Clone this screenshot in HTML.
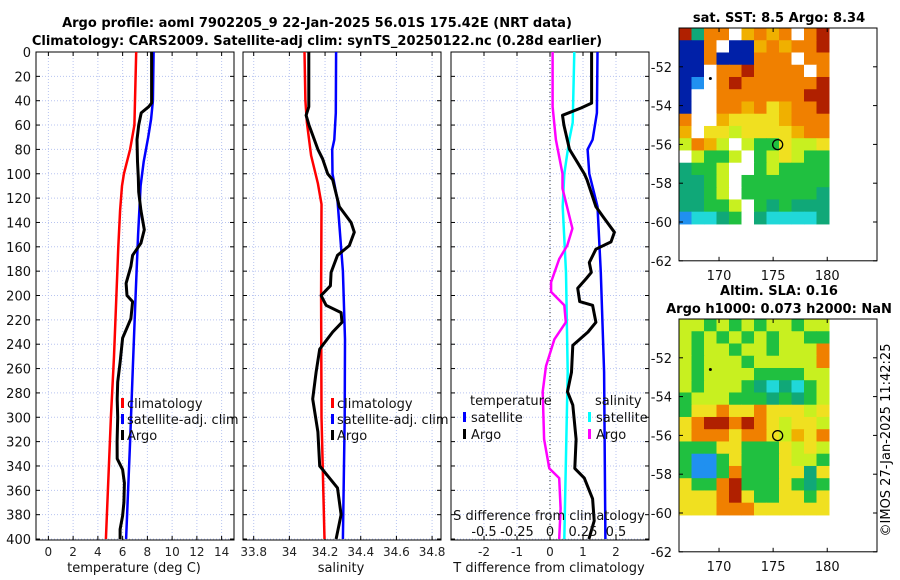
<!DOCTYPE html>
<html><head><meta charset="utf-8">
<style>
html,body{margin:0;padding:0;background:#fff;}
svg{display:block;font-family:"DejaVu Sans","Liberation Sans",sans-serif;}
</style></head>
<body>
<svg id="fig" width="900" height="580" viewBox="0 0 900 580" xmlns="http://www.w3.org/2000/svg">
<text x="317" y="27" font-size="13" font-weight="bold" text-anchor="middle">Argo profile: aoml 7902205_9 22-Jan-2025 56.01S 175.42E (NRT data)</text>
<text x="317" y="45" font-size="13" font-weight="bold" text-anchor="middle">Climatology: CARS2009. Satellite-adj clim: synTS_20250122.nc (0.28d earlier)</text>
<text x="779" y="22" font-size="13" font-weight="bold" text-anchor="middle">sat. SST: 8.5 Argo: 8.34</text>
<text x="779" y="295" font-size="13" font-weight="bold" text-anchor="middle">Altim. SLA: 0.16</text>
<text x="779" y="313" font-size="13" font-weight="bold" text-anchor="middle">Argo h1000: 0.073 h2000: NaN</text>
<text transform="translate(890,440) rotate(-90)" font-size="13" text-anchor="middle">©IMOS 27-Jan-2025 11:42:25</text>
<g id="plots"></g>
</svg>
<script>
// ---- Panel 1: temperature ----
const tClimDepth = [0,40,60,80,100,110,130,160,200,250,300,350,400];
const tClimVal   = [7.1,7.0,6.95,6.6,6.1,5.95,5.8,5.65,5.5,5.3,5.05,4.85,4.65];
const tSatDepth  = [0,40,55,70,90,110,150,200,260,320,400];
const tSatVal    = [8.5,8.45,8.3,8.07,7.7,7.45,7.25,7.05,6.82,6.6,6.28];
const tArgoDepth = [0,20,42,45,50,60,72,90,103,115,130,146,157,167,176,190,200,205,219,235,255,271,285,300,320,334,343,354,370,381,392,400];
const tArgoVal   = [8.34,8.34,8.34,8.1,7.5,7.3,7.16,7.2,7.27,7.3,7.48,7.75,7.48,6.81,6.67,6.28,6.35,6.81,6.67,6.0,5.8,5.6,5.56,5.6,5.55,5.56,6.0,6.14,6.1,6.0,5.8,5.8];
const tTicks = [0,2,4,6,8,10,12,14];
// ---- Panel 2: salinity ----
const sClimDepth = [0,40,58,85,108,125,200,300,400];
const sClimVal   = [34.085,34.09,34.098,34.122,34.16,34.18,34.178,34.18,34.197];
const sSatDepth  = [0,50,72,80,100,122,180,236,300,400];
const sSatVal    = [34.262,34.26,34.252,34.24,34.242,34.27,34.3,34.312,34.31,34.3];
const sArgoDepth = [0,45,52,60,80,88,100,105,127,140,148,159,167,181,192,200,208,214,222,230,244,263,285,312,340,350,358,380,400];
const sArgoVal   = [34.109,34.109,34.094,34.11,34.16,34.187,34.215,34.243,34.28,34.346,34.364,34.336,34.27,34.234,34.23,34.178,34.206,34.29,34.295,34.243,34.17,34.15,34.131,34.16,34.17,34.225,34.27,34.29,34.262];
const sTicks = [33.8,34,34.2,34.4,34.6,34.8];
const sTickLabels = ["33.8","34","34.2","34.4","34.6","34.8"];
// ---- Panel 3: differences from climatology ----
const dTArgoDepth = [0,42,46,52,60,80,91,100,105,127,135,148,156,162,173,181,186,194,205,208,222,230,241,263,279,290,318,342,350,367,385,400];
const dTArgoVal   = [1.26,1.26,0.94,0.38,0.42,0.59,0.84,1.04,1.12,1.39,1.6,1.95,1.85,1.39,1.19,1.25,1.1,0.84,0.9,1.29,1.39,1.15,0.69,0.65,0.53,0.69,0.79,0.75,1.04,1.29,1.34,1.18];
const dTSatDepth  = [0,50,72,80,100,127,181,263,400];
const dTSatVal    = [1.44,1.42,1.29,1.14,1.19,1.44,1.54,1.64,1.68];
const dSArgoDepth = [0,45,72,100,112,145,159,170,189,197,208,222,236,258,279,318,342,350,375,400];
const dSArgoVal   = [0.02,0.02,0.045,0.095,0.095,0.17,0.13,0.07,0.008,0.008,0.108,0.12,0.033,-0.03,-0.055,-0.045,-0.005,0.07,0.08,0.07];
const dSSatDepth  = [0,58,72,100,127,181,263,400];
const dSSatVal    = [0.184,0.172,0.146,0.108,0.096,0.121,0.134,0.108];
const dTTicks = [-2,-1,0,1,2];
const dSTicks = [-0.5,-0.25,0,0.25,0.5];
const dSTickLabels = ["-0.5","-0.25","0","0.25","0.5"];
const depthTicks = [0,20,40,60,80,100,120,140,160,180,200,220,240,260,280,300,320,340,360,380,400];
// ---- Maps (colour code grids) ----
const sstRows = ["RgOOWoOoOWOR","BBOWBBoOoOOR","BBOBBBOOOWOO","BBWOOROOOOWO","BbWOROOOOOOR","BWWOOOOOOORR","BWWOOoOYoOOR","OWWoYYYYoOOO","oWYYyYYYYoOO","yOoyWyGGYyyY","WyGGyWGyYyGG","gGGyWWGyGGGG","ggGyWGGGGGGG","ggGyWGGGGGGg","ggGGyWGgGggg","bCCgGWgCCCCg"];
const slaRows = ["yyGyGyGyyGyy","yGyGyGyGyyGG","yGyyGyyGyyyO","yGyyyGyyyyyO","yGyyyyGGGGyy","yGyyyGgCgCGy","GyyyGGGgGgGy","GYYOYYOYYYyY","YORROROYyYYy","YOOOYOOYyoYO","GGGYYGGGYyYy","GbbGYGGGYyyG","GbbGOGGGYYgY","YGGORGGGYGgG","YYYORYGGYYGY","YYYOOOYYYYYY"];
const lonTicks = [170,175,180];
const latTicks = [-52,-54,-56,-58,-60,-62];
const argoLon = 175.42, argoLat = -56.01;

const NS="http://www.w3.org/2000/svg";
const root=document.getElementById('plots');
function mk(tag,attrs,parent){const e=document.createElementNS(NS,tag);for(const k in attrs)e.setAttribute(k,attrs[k]);(parent||root).appendChild(e);return e;}
const yTop=52, yBot=540;
const yD=d=>yTop+d*(yBot-yTop)/400.8;

function panel(x0,x1,lo,hi,name){
  const xs=v=>x0+(v-lo)/(hi-lo)*(x1-x0);
  return {xs,x0,x1,name};
}
function frame(p,ticks,labels,gridExtra){
  const g=mk('g',{});
  
  
  const all=ticks.concat(gridExtra||[]);
  all.forEach(v=>{const l=mk('line',{x1:p.xs(v),x2:p.xs(v),y1:yTop,y2:yBot,stroke:'#b8c4f0','stroke-width':1,'stroke-dasharray':'1,2'},g);
    
    });
  depthTicks.forEach(d=>{const l=mk('line',{x1:p.x0,x2:p.x1,y1:yD(d),y2:yD(d),stroke:'#b8c4f0','stroke-width':1,'stroke-dasharray':'1,2'},g);
    
    
    mk('line',{x1:p.x0,x2:p.x0+4,y1:yD(d),y2:yD(d),stroke:'#000'},g);
    mk('line',{x1:p.x1,x2:p.x1-4,y1:yD(d),y2:yD(d),stroke:'#000'},g);});
  ticks.forEach((v,i)=>{mk('line',{x1:p.xs(v),x2:p.xs(v),y1:yBot,y2:yBot-4,stroke:'#000'},g);
    mk('line',{x1:p.xs(v),x2:p.xs(v),y1:yTop,y2:yTop+4,stroke:'#000'},g);
    if(labels){const t=mk('text',{x:p.xs(v),y:yBot+16,'font-size':12,'text-anchor':'middle',fill:'#222'},g);t.textContent=labels[i];
      
      }});
  const r=mk('rect',{x:p.x0,y:yTop,width:p.x1-p.x0,height:yBot-yTop,fill:'none',stroke:'#000','stroke-width':1},g);
  
  
}
function line(p,depth,vals,color,w,name){
  const pts=depth.map((d,i)=>p.xs(vals[i]).toFixed(1)+','+yD(d).toFixed(1)).join(' ');
  const l=mk('polyline',{points:pts,fill:'none',stroke:color,'stroke-width':w,'stroke-linejoin':'round'});
  
  
}
function txt(x,y,s,size,anchor,name){const t=mk('text',{x:x,y:y,'font-size':size,'text-anchor':anchor||'start',fill:'#111'});t.textContent=s;
  
  return t;}
function legendMark(x,y,color){const r=mk('rect',{x:x,y:y-10,width:3,height:10,fill:color});
  
  }

// Panel 1
const p1=panel(36,234,-1,15,'temperature-panel');
frame(p1,tTicks,tTicks.map(String));
depthTicks.forEach(d=>{txt(31,yD(d)+5,String(d),13,'end','y-tick-label');});
line(p1,tClimDepth,tClimVal,'#ff0000',2.5,'temperature-climatology-line');
line(p1,tSatDepth,tSatVal,'#0000ff',2.5,'temperature-satellite-line');
line(p1,tArgoDepth,tArgoVal,'#000',3,'temperature-argo-line');
legendMark(121,408,'#ff0000');txt(127,408,'climatology',13,'start','legend-climatology');
legendMark(121,424,'#0000ff');txt(127,424,'satellite-adj. clim',13,'start','legend-satellite');
legendMark(121,440,'#000');txt(127,440,'Argo',13,'start','legend-argo');
txt(134,572,'temperature (deg C)',13,'middle','x-axis-title-temperature');

// Panel 2
const p2=panel(243,441,33.74,34.85,'salinity-panel');
frame(p2,sTicks,sTickLabels);
line(p2,sClimDepth,sClimVal,'#ff0000',2.5,'salinity-climatology-line');
line(p2,sSatDepth,sSatVal,'#0000ff',2.5,'salinity-satellite-line');
line(p2,sArgoDepth,sArgoVal,'#000',3,'salinity-argo-line');
legendMark(331,408,'#ff0000');txt(337,408,'climatology',13,'start','legend-climatology-2');
legendMark(331,424,'#0000ff');txt(337,424,'satellite-adj. clim',13,'start','legend-satellite-2');
legendMark(331,440,'#000');txt(337,440,'Argo',13,'start','legend-argo-2');
txt(341,572,'salinity',13,'middle','x-axis-title-salinity');

// Panel 3
const p3=panel(451,649,-3,3,'difference-panel');
const pS={xs:v=>p3.xs(v*4),x0:p3.x0,x1:p3.x1,name:'s-diff'};
frame(p3,dTTicks,dTTicks.map(String),dSTicks.map(v=>v*4));
const zl=mk('line',{x1:p3.xs(0),x2:p3.xs(0),y1:yTop,y2:yBot,stroke:'#333','stroke-width':1,'stroke-dasharray':'1,3'});


line(pS,dSSatDepth,dSSatVal,'#00ffff',2.5,'salinity-satellite-diff-line');
line(pS,dSArgoDepth,dSArgoVal,'#ff00ff',2.5,'salinity-argo-diff-line');
line(p3,dTSatDepth,dTSatVal,'#0000ff',2.5,'temperature-satellite-diff-line');
line(p3,dTArgoDepth,dTArgoVal,'#000',3,'temperature-argo-diff-line');
txt(470,405,'temperature',13,'start','legend-temperature-header');
legendMark(463,422,'#0000ff');txt(471,422,'satellite',13,'start','legend-t-satellite');
legendMark(463,439,'#000');txt(471,439,'Argo',13,'start','legend-t-argo');
txt(595,405,'salinity',13,'start','legend-salinity-header');
legendMark(588,422,'#00ffff');txt(596,422,'satellite',13,'start','legend-s-satellite');
legendMark(588,439,'#ff00ff');txt(596,439,'Argo',13,'start','legend-s-argo');
txt(549,520,'S difference from climatology',13,'middle','s-axis-title');
dSTicks.forEach((v,i)=>txt(pS.xs(v),536,dSTickLabels[i],13,'middle','s-tick-label'));
txt(549,572,'T difference from climatology',13,'middle','x-axis-title-tdiff');

// Maps
const colors={R:'#b02000',O:'#f08000',o:'#f0b000',Y:'#f0e020',y:'#c8f020',G:'#20c040',g:'#10a878',C:'#20d8d8',b:'#2090f0',B:'#0020a8',W:'#ffffff'};
function map(rows,bx0,by0,name){
  const bx1=877, lonLo=166.3, lonHi=184.6, latTop=-50, ppd=19.4;
  const xl=lon=>bx0+(lon-lonLo)/(lonHi-lonLo)*(bx1-bx0);
  const yl=lat=>by0+(latTop-lat)*ppd;
  const g=mk('g',{});
  
  
  const ix1=829, iy1=yl(-60.1);
  const cw=(ix1-bx0)/rows[0].length, ch=(iy1-by0)/rows.length;
  rows.forEach((row,r)=>{[...row].forEach((c,k)=>{
    const cell=mk('rect',{x:(bx0+k*cw).toFixed(2),y:(by0+r*ch).toFixed(2),width:(cw+0.5).toFixed(2),height:(ch+0.5).toFixed(2),fill:colors[c]},g);
    
    });});
  const fr=mk('rect',{x:bx0,y:by0,width:bx1-bx0,height:yl(-62)-by0,fill:'none',stroke:'#000'},g);
  
  
  latTicks.forEach(l=>{mk('line',{x1:bx0,x2:bx0+4,y1:yl(l),y2:yl(l),stroke:'#000'},g);
    mk('line',{x1:bx1,x2:bx1-4,y1:yl(l),y2:yl(l),stroke:'#000'},g);
    txt(bx0-7,yl(l)+5,String(l),13,'end','lat-tick-label');});
  lonTicks.forEach(l=>{mk('line',{x1:xl(l),x2:xl(l),y1:yl(-62),y2:yl(-62)-4,stroke:'#000'},g);
    mk('line',{x1:xl(l),x2:xl(l),y1:by0,y2:by0+4,stroke:'#000'},g);
    txt(xl(l),yl(-62)+19,String(l),13,'middle','lon-tick-label');});
  const c=mk('circle',{cx:xl(argoLon),cy:yl(argoLat),r:5,fill:'none',stroke:'#000','stroke-width':1.3},g);
  
  
  const d=mk('circle',{cx:xl(169.2),cy:yl(-52.6),r:1.5,fill:'#000'},g);
  
  
}
map(sstRows,679,28,'sst-map');
map(slaRows,679,319,'sla-map');
</script>
</body></html>
